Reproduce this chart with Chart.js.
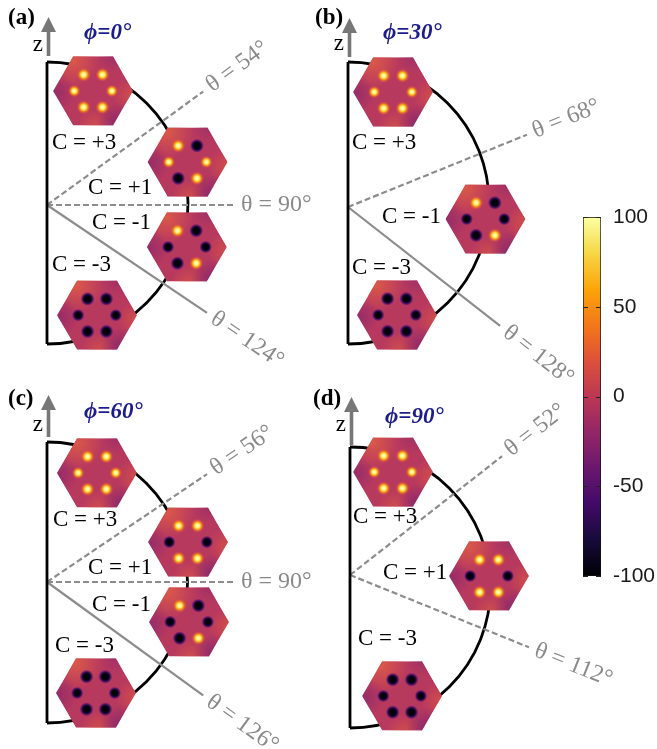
<!DOCTYPE html>
<html>
<head>
<meta charset="utf-8">
<script src="https://cdn.jsdelivr.net/npm/chart.js@4.4.0/dist/chart.umd.min.js"></script>
<style>
body { margin: 0; background: #fff; }
#wrap { position: relative; width: 657px; height: 749px; overflow: hidden; }
#main { position: absolute; left: 0; top: 0; }
#cb { position: absolute; left: 577px; top: 200px; }
</style>
</head>
<body>
<div id="wrap">
  <canvas id="main" width="657" height="749"></canvas>
  <canvas id="cb" width="80" height="395"></canvas>
</div>
<script>
// values
var panelNames = ['(a)', '(b)', '(c)', '(d)'];
var phiValues = [0, 30, 60, 90];
var thetaA = [54, 90, 124];
var thetaB = [68, 128];
var thetaC = [56, 90, 126];
var thetaD = [52, 112];
var chernA = [3, 1, -1, -3];
var chernB = [3, -1, -3];
var chernC = [3, 1, -1, -3];
var chernD = [3, 1, -3];
// sign of the six hot spots, from the right corner going counter-clockwise
var spotsA = [[1,1,1,1,1,1], [1,-1,1,1,-1,1], [-1,-1,1,-1,-1,1], [-1,-1,-1,-1,-1,-1]];
var spotsB = [[1,1,1,1,1,1], [-1,-1,1,-1,-1,1], [-1,-1,-1,-1,-1,-1]];
var spotsC = [[1,1,1,1,1,1], [-1,1,1,-1,1,1], [-1,-1,1,-1,-1,1], [-1,-1,-1,-1,-1,-1]];
var spotsD = [[1,1,1,1,1,1], [-1,1,1,-1,1,1], [-1,-1,-1,-1,-1,-1]];
var colorTicks = [-100, -50, 0, 50, 100];

// layout of each panel (figure units, y down)
var panels = [
  { theta: thetaA, chern: chernA, spots: spotsA, ox: 47, oy: 205, acy: 203, ar: 141,
    tip: 17, tail: 56, nameX: 8, nameY: 18, phiX: 84, phiY: 33, zY: 45,
    hex: [[22, 123], [73, 147], [106.7, 146], [155.6, 121]],
    cpos: [[52, 143], [88, 188], [92, 223], [52, 265]], lowerSolid: true },
  { theta: thetaB, chern: chernB, spots: spotsB, ox: 348, oy: 207, acy: 203, ar: 141,
    tip: 18, tail: 57, nameX: 315, nameY: 18, phiX: 383, phiY: 33, zY: 44,
    hex: [[21.4, 123.5], [95, 138], [155.6, 118.6]],
    cpos: [[352, 143], [382, 217], [352, 268]], lowerSolid: true },
  { theta: thetaC, chern: chernC, spots: spotsC, ox: 47, oy: 582, acy: 582.5, ar: 140.5,
    tip: 395, tail: 437, nameX: 8, nameY: 399, phiX: 84, phiY: 412, zY: 425,
    hex: [[24.6, 120], [74.2, 146.6], [105.7, 147.5], [156.2, 121.3]],
    cpos: [[53, 520], [88, 568], [92, 605], [55, 646]], lowerSolid: true },
  { theta: thetaD, chern: chernD, spots: spotsD, ox: 350, oy: 575, acy: 587.5, ar: 140.5,
    tip: 397, tail: 445, nameX: 313, nameY: 399, phiX: 385, phiY: 417, zY: 425,
    hex: [[22.7, 111.6], [90.4, 139], [156.7, 131.7]],
    cpos: [[353, 517], [383, 573], [358, 639]], lowerSolid: false }
];

var rad = Math.PI / 180;
var datasets = [];
panels.forEach(function (p) {
  datasets.push({
    data: [{ x: p.ox, y: p.acy - p.ar }, { x: p.ox, y: p.acy + p.ar }],
    borderColor: '#000', borderWidth: 2.8
  });
  p.theta.forEach(function (t) {
    var L = t == 90 ? 187 : 193;
    datasets.push({
      data: [{ x: p.ox, y: p.oy }, { x: p.ox + L * Math.sin(t * rad), y: p.oy - L * Math.cos(t * rad) }],
      borderColor: '#8c8c8c', borderWidth: 2.2,
      borderDash: (t > 90 && p.lowerSolid) ? [] : [6, 3]
    });
  });
});
datasets.forEach(function (d) {
  d.showLine = true; d.pointRadius = 0; d.fill = false; d.tension = 0;
});

function hexPath(ctx, cx, cy, R) {
  ctx.beginPath();
  for (var k = 0; k < 6; k++) {
    var a = k * Math.PI / 3;
    var px = cx + R * Math.cos(a), py = cy - R * Math.sin(a);
    if (k) ctx.lineTo(px, py); else ctx.moveTo(px, py);
  }
  ctx.closePath();
}

function blob(ctx, x, y, r, rgb, alpha) {
  var g = ctx.createRadialGradient(x, y, 0, x, y, r);
  g.addColorStop(0, 'rgba(' + rgb + ',' + alpha + ')');
  g.addColorStop(1, 'rgba(' + rgb + ',0)');
  ctx.fillStyle = g;
  ctx.fillRect(x - r, y - r, 2 * r, 2 * r);
}

function spot(ctx, x, y, s, sign) {
  var r = s * 7;
  var g = ctx.createRadialGradient(x, y, 0, x, y, r);
  if (sign > 0) {
    g.addColorStop(0, '#fdffc8');
    g.addColorStop(0.3, '#fcf07a');
    g.addColorStop(0.5, '#fbb41a');
    g.addColorStop(0.75, 'rgba(240,110,40,0.6)');
    g.addColorStop(1, 'rgba(221,81,58,0)');
  } else {
    g.addColorStop(0, '#000004');
    g.addColorStop(0.45, '#05030f');
    g.addColorStop(0.65, '#2c0a4e');
    g.addColorStop(0.85, 'rgba(90,20,110,0.6)');
    g.addColorStop(1, 'rgba(120,28,109,0)');
  }
  ctx.fillStyle = g;
  ctx.fillRect(x - r, y - r, 2 * r, 2 * r);
}

function drawHex(ctx, cx, cy, R, signs) {
  ctx.save();
  hexPath(ctx, cx, cy, R);
  ctx.clip();
  ctx.fillStyle = '#b8395e';
  ctx.fill();
  blob(ctx, cx - 0.5 * R, cy - 0.75 * R, 0.65 * R, '230,98,66', 0.75);
  blob(ctx, cx + 0.95 * R, cy + 0.1 * R, 0.45 * R, '224,88,62', 0.6);
  blob(ctx, cx + 0.05 * R, cy + 0.9 * R, 0.45 * R, '226,94,62', 0.55);
  blob(ctx, cx - 0.95 * R, cy + 0.05 * R, 0.5 * R, '128,36,112', 0.6);
  blob(ctx, cx + 0.6 * R, cy + 0.8 * R, 0.5 * R, '118,32,112', 0.65);
  blob(ctx, cx + 0.5 * R, cy - 0.85 * R, 0.4 * R, '140,40,108', 0.5);
  for (var k = 0; k < 6; k++) {
    var a = k * Math.PI / 3;
    var s = (k == 0 || k == 3) ? 0.9 : 1;
    spot(ctx, cx + 0.47 * R * Math.cos(a), cy - 0.47 * R * Math.sin(a), s, signs[k]);
  }
  ctx.restore();
}

var figurePlugin = {
  id: 'figure',
  beforeDatasetsDraw: function (chart) {
    var ctx = chart.ctx, xs = chart.scales.x, ys = chart.scales.y;
    ctx.save();
    ctx.strokeStyle = '#000';
    ctx.lineWidth = 2.8;
    panels.forEach(function (p) {
      var cx = xs.getPixelForValue(p.ox), cy = ys.getPixelForValue(p.acy);
      var r = xs.getPixelForValue(p.ox + p.ar) - cx;
      ctx.beginPath();
      ctx.arc(cx, cy, r, -Math.PI / 2, Math.PI / 2, false);
      ctx.stroke();
    });
    ctx.restore();
  },
  afterDatasetsDraw: function (chart) {
    var ctx = chart.ctx, xs = chart.scales.x, ys = chart.scales.y;
    var X = function (v) { return xs.getPixelForValue(v); };
    var Y = function (v) { return ys.getPixelForValue(v); };
    var R = X(40) - X(0);
    ctx.save();
    panels.forEach(function (p, i) {
      // insets
      p.hex.forEach(function (h, j) {
        var cx = X(p.ox + h[1] * Math.sin(h[0] * rad));
        var cy = Y(p.oy - h[1] * Math.cos(h[0] * rad));
        drawHex(ctx, cx, cy, R, p.spots[j]);
      });
      // theta labels
      ctx.fillStyle = '#8a8a8a';
      ctx.font = '24px "Liberation Serif", serif';
      ctx.textAlign = 'left';
      ctx.textBaseline = 'middle';
      p.theta.forEach(function (t) {
        var L = (t == 90 ? 187 : 193) + 7;
        ctx.save();
        ctx.translate(X(p.ox + L * Math.sin(t * rad)), Y(p.oy - L * Math.cos(t * rad)));
        ctx.rotate((t - 90) * rad);
        ctx.fillText('\u03b8 = ' + t + '\u00b0', 0, 0);
        ctx.restore();
      });
      // Chern numbers
      ctx.fillStyle = '#000';
      ctx.font = '23px "Liberation Serif", serif';
      p.chern.forEach(function (c, j) {
        ctx.fillText('C = ' + (c > 0 ? '+' : '-') + Math.abs(c), X(p.cpos[j][0]), Y(p.cpos[j][1]));
      });
      // panel name
      ctx.font = 'bold 23px "Liberation Serif", serif';
      ctx.fillText(panelNames[i], X(p.nameX), Y(p.nameY));
      // phi
      ctx.fillStyle = '#1c1c8c';
      ctx.font = 'italic bold 23px "Liberation Serif", serif';
      ctx.fillText('\u03d5=' + phiValues[i] + '\u00b0', X(p.phiX), Y(p.phiY));
      // z arrow
      ctx.fillStyle = '#777';
      var ax = X(p.ox + 1.5);
      ctx.fillRect(ax - 1.8, Y(p.tip + 14), 3.6, Y(p.tail) - Y(p.tip + 14));
      ctx.beginPath();
      ctx.moveTo(ax, Y(p.tip));
      ctx.lineTo(ax - 7.5, Y(p.tip + 15));
      ctx.lineTo(ax + 7.5, Y(p.tip + 15));
      ctx.closePath();
      ctx.fill();
      ctx.fillStyle = '#000';
      ctx.font = '23px "Liberation Serif", serif';
      ctx.textAlign = 'right';
      ctx.fillText('z', X(p.ox - 4), Y(p.zY));
      ctx.textAlign = 'left';
    });
    ctx.restore();
  }
};

new Chart(document.getElementById('main'), {
  type: 'scatter',
  data: { datasets: datasets },
  options: {
    responsive: false,
    animation: false,
    devicePixelRatio: 1,
    events: [],
    layout: { padding: 0 },
    plugins: { legend: { display: false }, tooltip: { enabled: false } },
    scales: {
      x: { type: 'linear', min: 0, max: 657, display: false },
      y: { type: 'linear', min: 0, max: 749, reverse: true, display: false }
    }
  },
  plugins: [figurePlugin]
});

// colour bar
var inferno = ['#000004', '#160b39', '#420a68', '#6a176e', '#932667', '#bc3754',
               '#dd513a', '#f37819', '#fca50a', '#f6d746', '#fcffa4'];

var innerTicks = {
  id: 'innerTicks',
  afterDatasetsDraw: function (chart) {
    var ctx = chart.ctx, ca = chart.chartArea, ys = chart.scales.y;
    ctx.save();
    ctx.strokeStyle = '#222';
    ctx.lineWidth = 1;
    colorTicks.forEach(function (v) {
      var y = Math.round(ys.getPixelForValue(v)) + 0.5;
      ctx.beginPath();
      ctx.moveTo(ca.left, y); ctx.lineTo(ca.left + 5, y);
      ctx.moveTo(ca.right - 5, y); ctx.lineTo(ca.right, y);
      ctx.stroke();
    });
    ctx.restore();
  }
};

new Chart(document.getElementById('cb'), {
  type: 'bar',
  data: {
    labels: [''],
    datasets: [{
      data: [[colorTicks[0], colorTicks[colorTicks.length - 1]]],
      backgroundColor: function (c) {
        var ca = c.chart.chartArea;
        if (!ca) return '#bc3754';
        var g = c.chart.ctx.createLinearGradient(0, ca.bottom, 0, ca.top);
        inferno.forEach(function (col, k) { g.addColorStop(k / (inferno.length - 1), col); });
        return g;
      },
      borderColor: '#111',
      borderWidth: 1,
      borderSkipped: false,
      barPercentage: 1,
      categoryPercentage: 1
    }]
  },
  options: {
    responsive: false,
    animation: false,
    devicePixelRatio: 1,
    events: [],
    layout: { padding: { left: 6, top: 17, bottom: 19, right: 0 } },
    plugins: { legend: { display: false }, tooltip: { enabled: false } },
    scales: {
      x: { display: false },
      y: {
        position: 'right', min: -100, max: 100,
        ticks: { stepSize: 50, padding: 4, color: '#1a1a1a',
                 font: { family: '"Liberation Sans", Arial, sans-serif', size: 21 } },
        grid: { display: false },
        border: { display: false },
        afterFit: function (s) { s.width = 56; }
      }
    }
  },
  plugins: [innerTicks]
});
</script>
</body>
</html>
